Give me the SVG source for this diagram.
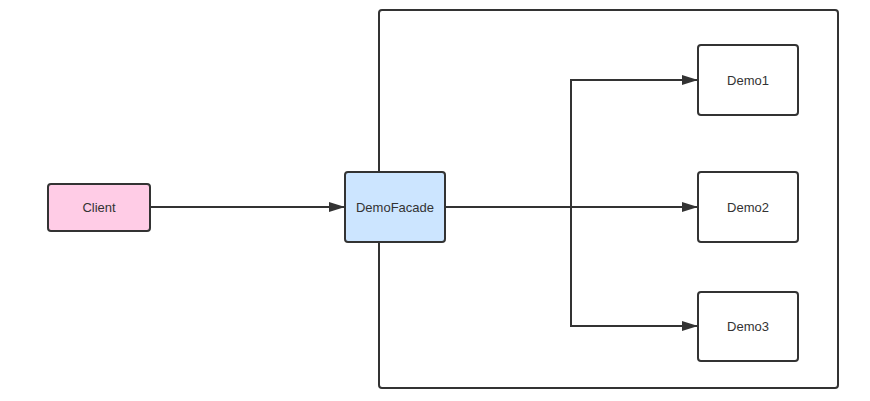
<svg xmlns="http://www.w3.org/2000/svg" width="870" height="401" viewBox="0 0 870 401">
<style>
.box{stroke:#333;stroke-width:2;}
.lbl{font-family:"Liberation Sans",Arial,sans-serif;font-size:13px;fill:#333;text-anchor:middle;dominant-baseline:central;}
.edge{fill:none;stroke:#333;stroke-width:2;}
</style>
<defs>
<marker id="arr" markerWidth="16" markerHeight="10" refX="15" refY="5" orient="auto" markerUnits="userSpaceOnUse">
<path d="M0,0 L16,5 L0,10 Z" fill="#333"/>
</marker>
</defs>
<rect width="870" height="401" fill="#fff"/>
<g id="container"><rect class="box" x="379" y="10" width="459" height="378" rx="3" fill="#fff"/></g>
<g id="connectors">
<path class="edge" d="M150,207 H344" marker-end="url(#arr)"/>
<path class="edge" d="M445,207 H697" marker-end="url(#arr)"/>
<path class="edge" d="M445,207 H571 V80 H697" marker-end="url(#arr)"/>
<path class="edge" d="M445,207 H571 V326 H697" marker-end="url(#arr)"/>
</g>
<g id="client"><rect class="box" x="48" y="184" width="102" height="47" rx="3" fill="#ffcce6"/><text class="lbl" x="99" y="207.5">Client</text></g>
<g id="demofacade"><rect class="box" x="345" y="172" width="100" height="70" rx="3" fill="#cce5ff"/><text class="lbl" x="395" y="207.5">DemoFacade</text></g>
<g id="demo1"><rect class="box" x="698" y="45" width="100" height="70" rx="3" fill="#fff"/><text class="lbl" x="748" y="80">Demo1</text></g>
<g id="demo2"><rect class="box" x="698" y="172" width="100" height="70" rx="3" fill="#fff"/><text class="lbl" x="748" y="207.5">Demo2</text></g>
<g id="demo3"><rect class="box" x="698" y="292" width="100" height="69" rx="3" fill="#fff"/><text class="lbl" x="748" y="326.5">Demo3</text></g>
</svg>
